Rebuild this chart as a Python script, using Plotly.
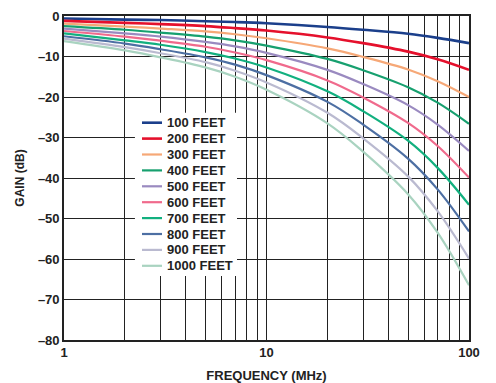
import plotly.graph_objects as go

freq_mhz = [1, 2, 3, 5, 7, 10, 20, 30, 50, 70, 100]
series_names = ["100 FEET", "200 FEET", "300 FEET", "400 FEET", "500 FEET",
                "600 FEET", "700 FEET", "800 FEET", "900 FEET", "1000 FEET"]
gain_100ft = [-0.6, -0.9, -1.0, -1.3, -1.5, -1.8, -2.7, -3.4, -4.4, -5.4, -6.7]
gain_200ft = [-1.2, -1.7, -2.0, -2.5, -3.0, -3.6, -5.3, -6.7, -8.8, -10.7, -13.3]
gain_300ft = [-1.9, -2.6, -3.1, -3.8, -4.5, -5.5, -8.0, -10.1, -13.2, -16.1, -20.0]
gain_400ft = [-2.5, -3.4, -4.1, -5.1, -6.0, -7.3, -10.6, -13.4, -17.6, -21.4, -26.6]
gain_500ft = [-3.1, -4.3, -5.1, -6.4, -7.5, -9.1, -13.3, -16.8, -22.0, -26.8, -33.3]
gain_600ft = [-3.7, -5.1, -6.1, -7.6, -9.0, -10.9, -15.9, -20.1, -26.4, -32.1, -39.9]
gain_700ft = [-4.3, -6.0, -7.1, -8.9, -10.5, -12.7, -18.6, -23.5, -30.8, -37.5, -46.6]
gain_800ft = [-5.0, -6.8, -8.2, -10.2, -12.0, -14.6, -21.2, -26.8, -35.2, -42.8, -53.2]
gain_900ft = [-5.6, -7.7, -9.2, -11.4, -13.5, -16.4, -23.9, -30.2, -39.6, -48.2, -59.9]
gain_1000ft = [-6.2, -8.5, -10.2, -12.7, -15.0, -18.2, -26.5, -33.5, -44.0, -53.5, -66.5]
all_gains = [gain_100ft, gain_200ft, gain_300ft, gain_400ft, gain_500ft,
             gain_600ft, gain_700ft, gain_800ft, gain_900ft, gain_1000ft]

x_tick_vals = [1, 10, 100]
x_tick_text = ["1", "10", "100"]
x_minor_vals = [2, 3, 4, 5, 6, 7, 8, 9, 20, 30, 40, 50, 60, 70, 80, 90]
y_tick_vals = [0, -10, -20, -30, -40, -50, -60, -70, -80]
y_tick_text = ["0", "\u201310", "\u201320", "\u201330", "\u201340", "\u201350",
               "\u201360", "\u201370", "\u201380"]

colors = ["#1b3f8b", "#e5102c", "#f6a877", "#17a06f", "#9a8ac0",
          "#f06a8c", "#12b07f", "#4d6fa3", "#babad0", "#a9d3c0"]
widths = [2.6, 2.6, 2.2, 2.2, 2.2, 2.2, 2.2, 2.2, 2.2, 2.2]

FONT = "Liberation Sans"
fig = go.Figure()

for name, g, c, w in zip(series_names, all_gains, colors, widths):
    fig.add_trace(go.Scatter(x=freq_mhz, y=g, mode="lines", name=name,
                             line=dict(color=c, width=w, shape="spline"),
                             showlegend=False))

# white legend box (covers grid lines; no curves pass through this region)
shapes = [dict(type="rect", xref="x", yref="y", x0=2.24, x1=7.15, y0=-64.2, y1=-23.9,
               fillcolor="white", line=dict(width=0), layer="above")]
annotations = []
W, H = 405.0, 324.0
for i, (name, c, w) in enumerate(zip(series_names, colors, widths)):
    py = 122.7 + 15.9 * i
    yp = (340 - py) / H
    shapes.append(dict(type="line", xref="paper", yref="paper",
                       x0=(142 - 64) / W, x1=(162 - 64) / W, y0=yp, y1=yp,
                       line=dict(color=c, width=w), layer="above"))
    annotations.append(dict(xref="paper", yref="paper", x=(165 - 64) / W, y=yp,
                            text=name, showarrow=False, xanchor="left", yanchor="middle",
                            font=dict(family=FONT, size=13, color="#222", weight="bold")))

fig.update_layout(
    width=496, height=383,
    margin=dict(l=64, r=27, t=16, b=43, autoexpand=False),
    paper_bgcolor="white", plot_bgcolor="white",
    showlegend=False,
    shapes=shapes, annotations=annotations,
    font=dict(family=FONT, color="#222"),
)
fig.update_xaxes(
    type="log", range=[0, 2], automargin=False,
    tickvals=x_tick_vals, ticktext=x_tick_text,
    tickfont=dict(family=FONT, size=13, weight="bold", color="#222"),
    showgrid=True, gridcolor="#222222", gridwidth=1.3,
    minor=dict(tickvals=x_minor_vals, showgrid=True, gridcolor="#222222", gridwidth=1.3),
    showline=True, linecolor="#222", linewidth=1.6, mirror=True,
    ticks="", ticklen=0,
    title=dict(text="FREQUENCY (MHz)", standoff=12,
               font=dict(family=FONT, size=13, weight="bold", color="#222")),
    zeroline=False,
)
fig.update_yaxes(
    range=[-80, 0], automargin=False,
    tickvals=y_tick_vals, ticktext=y_tick_text,
    tickfont=dict(family=FONT, size=13, weight="bold", color="#222"),
    showgrid=True, gridcolor="#222222", gridwidth=1.3,
    showline=True, linecolor="#222", linewidth=1.6, mirror=True,
    ticks="", ticklen=0,
    title=dict(text="GAIN (dB)", standoff=11,
               font=dict(family=FONT, size=12, weight="bold", color="#222")),
    zeroline=False,
)

fig.write_html("out.html", config={"displayModeBar": False},
               post_script="document.body.style.margin='0';")
